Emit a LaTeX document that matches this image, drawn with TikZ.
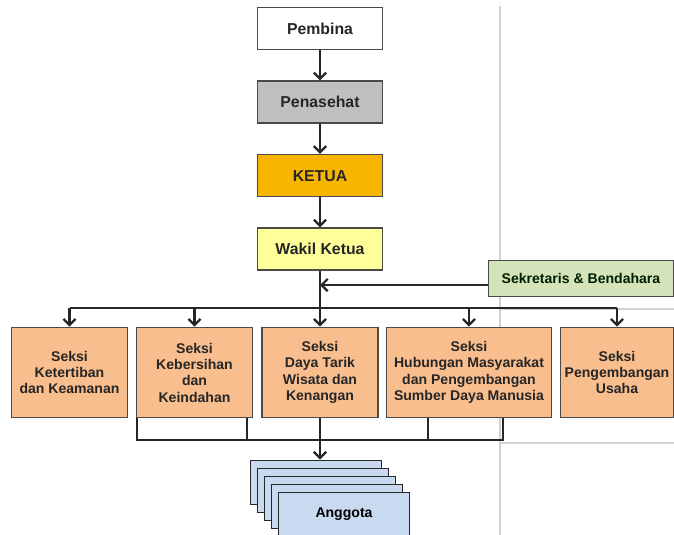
\documentclass[tikz,border=0pt]{standalone}
\usepackage{fontspec}
\setmainfont{Liberation Sans}
\usepackage{tikz}
\usetikzlibrary{arrows.meta, positioning, calc}

\definecolor{pembfill}{HTML}{FFFFFF}
\definecolor{penfill}{HTML}{BFBFBF}
\definecolor{ketfill}{HTML}{F7B500}
\definecolor{wakfill}{HTML}{FFFF99}
\definecolor{sekfill}{HTML}{D5E3BA}
\definecolor{seksifill}{HTML}{F9BE8E}
\definecolor{angfill}{HTML}{C9DAF0}
\definecolor{edge}{HTML}{4A4A4A}

\begin{document}
\begin{tikzpicture}[
  x=0.02cm, y=-0.02cm,
  box/.style={draw=edge, line width=0.9pt, minimum width=2.5cm, minimum height=0.84cm,
    font=\bfseries\fontsize{9}{11}\selectfont, align=center, text=black!85},
  seksi/.style={box, fill=seksifill, minimum height=1.8cm, inner sep=1pt,
    font=\bfseries\fontsize{8}{9.3}\selectfont},
  memb/.style={draw=black!85, line width=1pt, fill=angfill, minimum width=2.62cm, minimum height=0.88cm,
    font=\bfseries\fontsize{8}{10}\selectfont},
  conn/.style={draw=black!85, line width=1.3pt},
  arr/.style={conn, -{Straight Barb[length=3.5pt, width=7pt]}},
  pageline/.style={draw=black!18, line width=1pt},
]
\useasboundingbox (0,0) rectangle (674,535);
\draw[pageline] (500,6) -- (500,535);
\draw[pageline] (500,309) -- (674,309);
\draw[pageline] (500,443) -- (674,443);

% top of the structure
\node[box, fill=pembfill] (pemb) at (320,28.5) {Pembina};
\node[box, fill=penfill, below=0.6cm of pemb] (pen) {Penasehat};
\node[box, fill=ketfill, below=0.6cm of pen] (ket) {KETUA};
\node[box, fill=wakfill, below=0.6cm of ket] (wak) {Wakil Ketua};
\node[box, fill=sekfill, minimum width=3.7cm, minimum height=0.72cm,
  font=\bfseries\fontsize{8}{10}\selectfont, text={black!70!green!40!black}] (sek) at (581,278.5) {Sekretaris \& Bendahara};

\draw[arr] (pemb) -- (pen);
\draw[arr] (pen) -- (ket);
\draw[arr] (ket) -- (wak);

% seksi row
\node[seksi, minimum width=2.32cm] (s1) at (69.5,372.5) {Seksi\\Ketertiban\\dan Keamanan};
\node[seksi, minimum width=2.32cm] (s2) at (194.5,372.5) {Seksi\\Kebersihan\\dan\\Keindahan};
\node[seksi, minimum width=2.32cm] (s3) at (320,372.5) {Seksi\\Daya Tarik\\Wisata dan\\Kenangan};
\node[seksi, minimum width=3.3cm] (s4) at (469,372.5) {Seksi\\Hubungan Masyarakat\\dan Pengembangan\\Sumber Daya Manusia};
\node[seksi, minimum width=2.26cm] (s5) at (617,372.5) {Seksi\\Pengembangan\\Usaha};

\coordinate (split) at (320,308);
\coordinate (sekin) at ([yshift=-0.13cm]sek.west);
\draw[conn] (wak.south) -- (split);
\draw[arr] (sekin) -- (wak.south |- sekin);
\draw[conn] (s1.north |- split) -- (s5.north |- split);
\foreach \s in {s1,s2,s3,s4,s5}
  \draw[arr] (\s.north |- split) -- (\s.north);

% anggota
\foreach \i in {0,...,3}
  \node[memb] (ang\i) at (316+7*\i, 482.5+8*\i) {};
\node[memb] (ang) at (344, 514.5) {Anggota};

\coordinate (join) at (320,440);
\coordinate (k2a) at ($(s2.south west)+(1,0)$);
\coordinate (k2b) at ($(s2.south east)+(-6,0)$);
\coordinate (k4a) at ($(s4.south west)+(42,0)$);
\coordinate (k4b) at ($(s4.south west)+(117,0)$);
\draw[conn] (k2a) |- (join) -| (k4b);
\draw[conn] (k2b) -- (k2b |- join);
\draw[conn] (k4a) -- (k4a |- join);
\draw[arr] (s3.south) -- (s3.south |- ang0.north);
\end{tikzpicture}
\end{document}
